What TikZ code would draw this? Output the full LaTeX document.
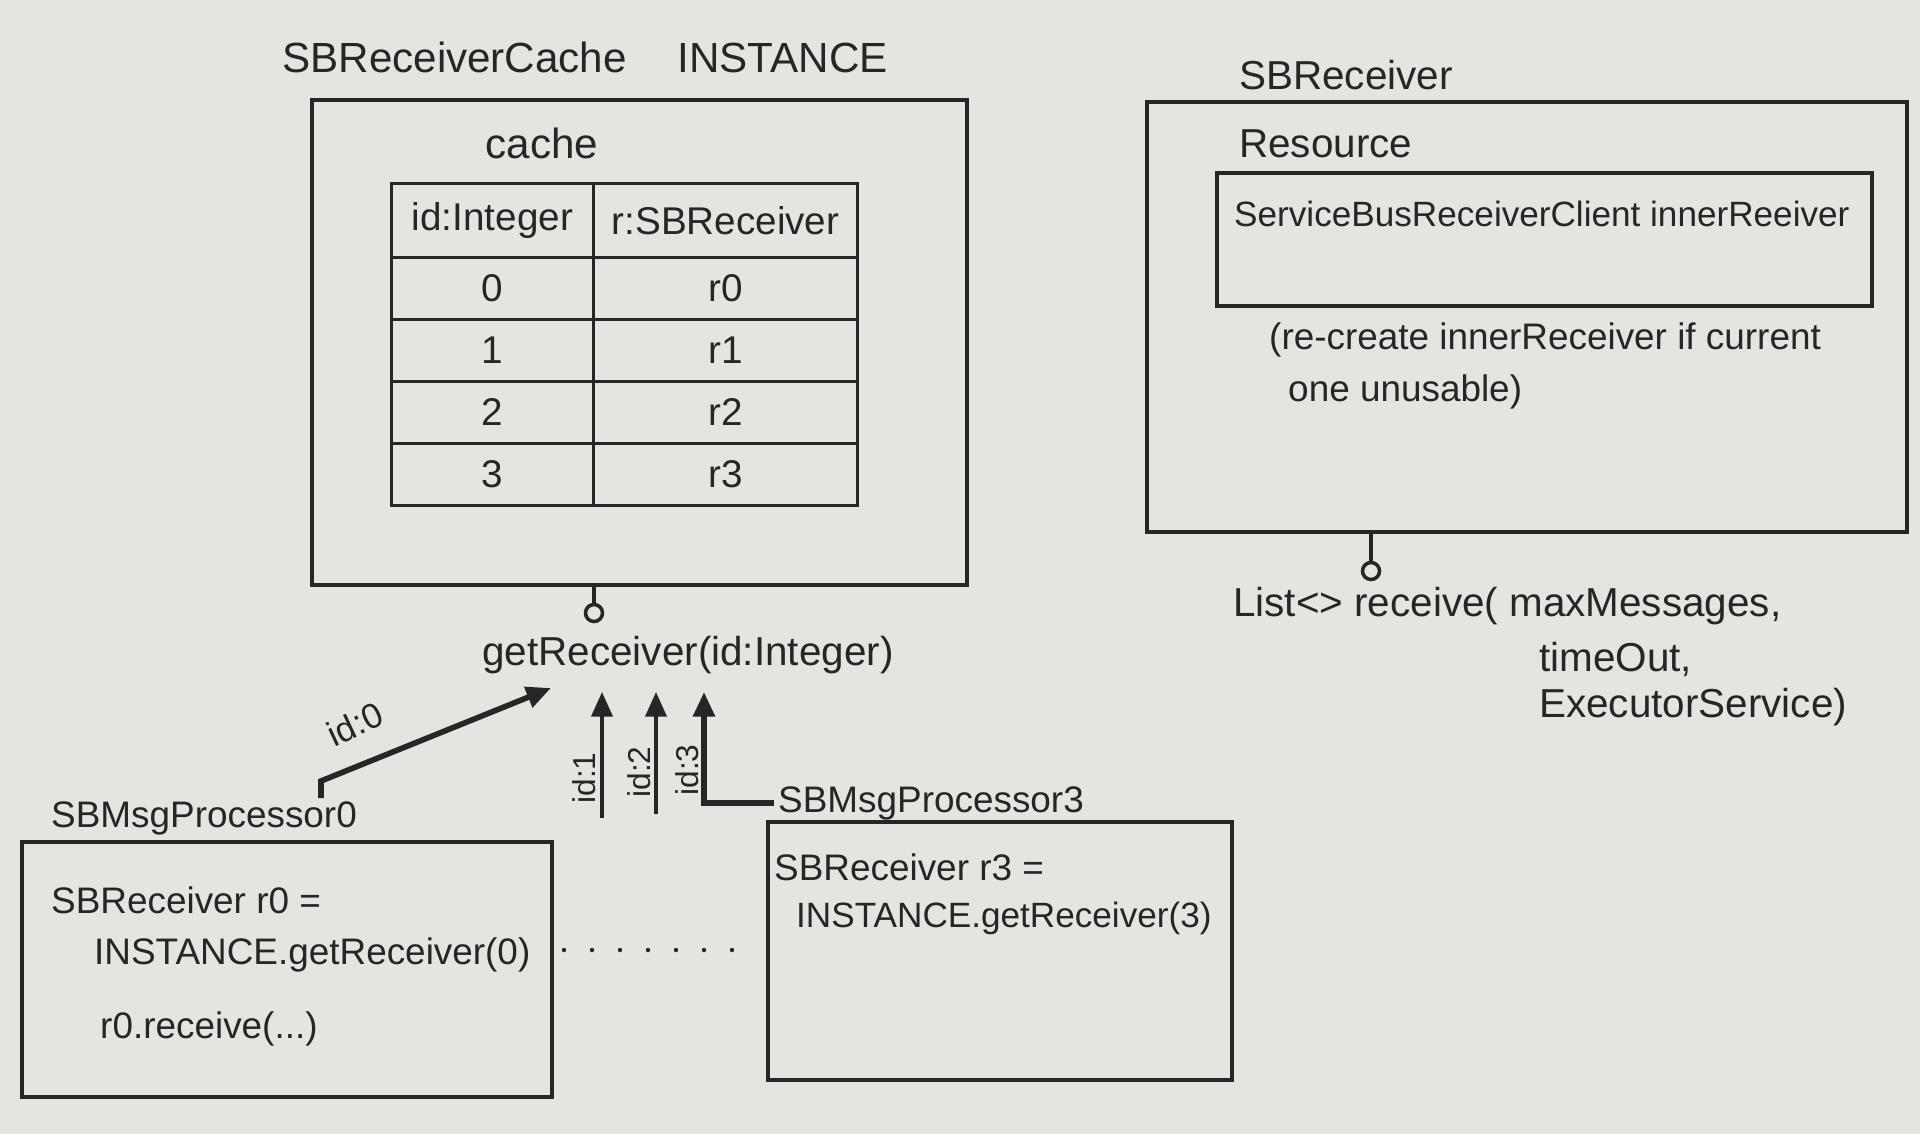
\documentclass[tikz,border=0pt]{standalone}
\usepackage{fontspec}
\setmainfont{Liberation Sans}
\definecolor{ink}{RGB}{38,38,38}
\definecolor{paper}{RGB}{228,228,225}
\usetikzlibrary{
    arrows.meta,
    positioning,
    matrix,
    calc
}

\begin{document}
\begin{tikzpicture}[
            box/.style={draw=ink, line width=1pt, anchor=north west, inner sep=0},
            port/.style={draw=ink, line width=1pt, circle, minimum size=0.17cm, inner sep=0},
            hand/.style={text=ink, font=\fontsize{11.5}{14}\selectfont, inner sep=1pt},
            code/.style={hand, font=\fontsize{10.5}{13}\selectfont, anchor=west},
            wire/.style={draw=ink, line width=1pt},
            call/.style={draw=ink, line width=1pt, -{Triangle[length=7pt,width=6pt]}},
            boldcall/.style={call, line width=1.6pt},
            idlabel/.style={hand, font=\fontsize{9}{11}\selectfont}]

            % Paper
            \useasboundingbox (0,0) rectangle (19.2,-11.34);
            \fill[paper] (0,0) rectangle (19.2,-11.34);

            % SBReceiverCache
            \node[hand, font=\fontsize{12}{14}\selectfont] (cachetitle) at (5.85,-0.57) {SBReceiverCache\hspace{1.2em}INSTANCE};
            \node[box, minimum width=6.55cm, minimum height=4.85cm] (cachebox) at (3.1,-0.98) {};
            \node[hand, font=\fontsize{12}{14}\selectfont] (cachelabel) at (5.42,-1.43) {cache};
            \matrix[matrix of nodes, anchor=north west, inner sep=0pt,
                    nodes={draw=ink, line width=1pt, text=ink, font=\fontsize{11}{13}\selectfont,
                           inner sep=0, minimum height=0.62cm, anchor=center},
                    column sep=-1pt, row sep=-1pt,
                    column 1/.style={nodes={minimum width=2.02cm}},
                    column 2/.style={nodes={minimum width=2.64cm}},
                    row 1/.style={nodes={minimum height=0.74cm}}] (cachetbl) at (3.89,-1.81) {
                id:Integer & r:SBReceiver \\
                0 & r0 \\
                1 & r1 \\
                2 & r2 \\
                3 & r3 \\
            };
            \node[port] (cacheport) at (5.94,-6.13) {};
            \draw[wire] (cachebox.south -| cacheport) -- (cacheport);
            \node[hand] (getrecv) at (6.88,-6.55) {getReceiver(id:Integer)};

            % Calls
            \coordinate (in0) at (5.51,-6.88);
            \coordinate (in1) at (6.02,-6.92);
            \coordinate (in2) at (6.56,-6.92);
            \coordinate (in3) at (7.04,-6.92);
            \coordinate (tail0) at (3.21,-7.98);
            \coordinate (tail1) at (6.02,-8.18);
            \coordinate (tail2) at (6.56,-8.14);
            \draw[boldcall] (tail0) -- ++(0,0.17) -- (in0);
            \draw[call] (tail1) -- (in1);
            \draw[call] (tail2) -- (in2);
            \node[idlabel, font=\fontsize{10}{12}\selectfont, rotate=25] at (3.55,-7.24) {id:0};
            \node[idlabel, rotate=90] at (5.84,-7.78) {id:1};
            \node[idlabel, rotate=90] at (6.39,-7.72) {id:2};
            \node[idlabel, rotate=90] at (6.87,-7.70) {id:3};

            % SBMsgProcessor0
            \node[code, font=\fontsize{10.5}{13}\selectfont] (proc0label) at (0.47,-8.18) {SBMsgProcessor0};
            \node[box, minimum width=5.3cm, minimum height=2.55cm] (proc0) at (0.2,-8.4) {};
            \node[code] (r0decl) at (0.47,-9.0) {SBReceiver r0 =};
            \node[code] (r0get) at (0.9,-9.55) {INSTANCE.getReceiver(0)};
            \node[code] (r0recv) at (0.96,-10.29) {r0.receive(...)};

            % Dots
            \foreach \i in {0,...,6}
                \fill[ink] (5.64+0.28*\i,-9.5) circle (0.022);

            % SBMsgProcessor3
            \node[code, font=\fontsize{10.5}{13}\selectfont] (proc3label) at (7.74,-8.03) {SBMsgProcessor3};
            \node[box, minimum width=4.64cm, minimum height=2.58cm] (proc3) at (7.66,-8.2) {};
            \node[code] (r3decl) at (7.7,-8.67) {SBReceiver r3 =};
            \node[code, font=\fontsize{10}{12}\selectfont] (r3get) at (7.92,-9.18) {INSTANCE.getReceiver(3)};
            \draw[boldcall] (proc3label.west) -| (in3);

            % SBReceiver
            \node[hand, anchor=west] (recvtitle) at (12.35,-0.75) {SBReceiver};
            \node[box, minimum width=7.6cm, minimum height=4.3cm] (recvbox) at (11.45,-1.0) {};
            \node[hand, anchor=west] (resource) at (12.35,-1.44) {Resource};
            \node[box, minimum width=6.55cm, minimum height=1.33cm] (clientbox) at (12.15,-1.71) {};
            \node[code, font=\fontsize{10}{12}\selectfont] (client) at (12.3,-2.14) {ServiceBusReceiverClient innerReeiver};
            \node[code] (note1) at (12.65,-3.40) {(re-create innerReceiver if current};
            \node[code] (note2) at (12.84,-3.92) {one unusable)};
            \node[port] (recvport) at (13.71,-5.71) {};
            \draw[wire] (recvbox.south -| recvport) -- (recvport);
            \node[hand, anchor=west] (receive1) at (12.29,-6.06) {List<> receive( maxMessages,};
            \node[hand, anchor=west] (receive2) at (15.35,-6.59) {timeOut,};
            \node[hand, anchor=west] (receive3) at (15.35,-7.07) {ExecutorService)};
        \end{tikzpicture}
\end{document}
